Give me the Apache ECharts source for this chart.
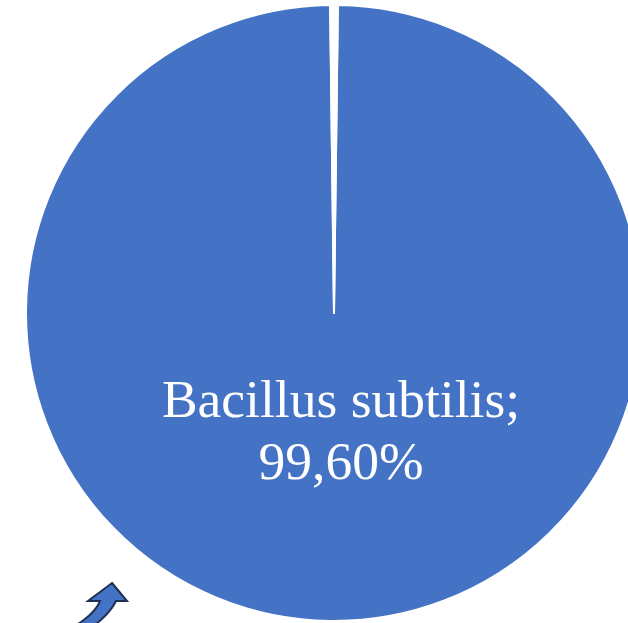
<!DOCTYPE html>
<html>
<head>
<meta charset="utf-8">
<script src="https://cdn.jsdelivr.net/npm/echarts@6/dist/echarts.min.js"></script>
<style>
  html, body { margin: 0; padding: 0; background: #ffffff; }
  #chart { width: 628px; height: 623px; }
</style>
</head>
<body>
<div id="chart"></div>
<script>
// Species share of isolates (percent)
const categories = ['Bacillus subtilis', 'Khác'];
const shares = [99.6, 0.4];
const sliceColors = ['#4472C4', '#ffffff'];

const chart = echarts.init(document.getElementById('chart'), null, { renderer: 'canvas' });

const pieData = categories.map((name, i) => ({
  name: name,
  value: shares[i],
  itemStyle: { color: sliceColors[i] },
  label: { show: i === 0 }
}));

// sample a quadratic curve for the curved arrow outline
function quad(p0, c, p1, n) {
  const pts = [];
  for (let k = 0; k <= n; k++) {
    const t = k / n, u = 1 - t;
    pts.push([u * u * p0[0] + 2 * u * t * c[0] + t * t * p1[0],
              u * u * p0[1] + 2 * u * t * c[1] + t * t * p1[1]]);
  }
  return pts;
}
const arrowPoints = [[112, 583], [127, 601], [116, 601]]
  .concat(quad([116, 601], [110, 613], [96, 624], 10).slice(1))
  .concat([[78, 624]])
  .concat(quad([78, 624], [95, 613], [100, 601], 10).slice(1))
  .concat([[88, 601]]);

chart.setOption({
  animation: false,
  series: [{
    type: 'pie',
    center: [334, 313],
    radius: [0, 308],
    startAngle: 89.28,
    clockwise: true,
    data: pieData,
    itemStyle: { borderColor: '#ffffff', borderWidth: 2 },
    label: {
      position: 'inside',
      color: '#ffffff',
      fontFamily: '"Liberation Serif", "Times New Roman", serif',
      fontSize: 53.5,
      lineHeight: 62,
      formatter: (p) => p.name + ';\n' + p.value.toFixed(2).replace('.', ',') + '%'
    },
    labelLine: { show: false },
    labelLayout: { dx: 7, dy: -36 },
    emphasis: { disabled: true }
  }],
  graphic: [{
    // curved callout arrow pointing up toward the small slice
    type: 'polygon',
    shape: { points: arrowPoints },
    style: { fill: '#4472C4', stroke: '#1F3050', lineWidth: 2 }
  }]
});
</script>
</body>
</html>
